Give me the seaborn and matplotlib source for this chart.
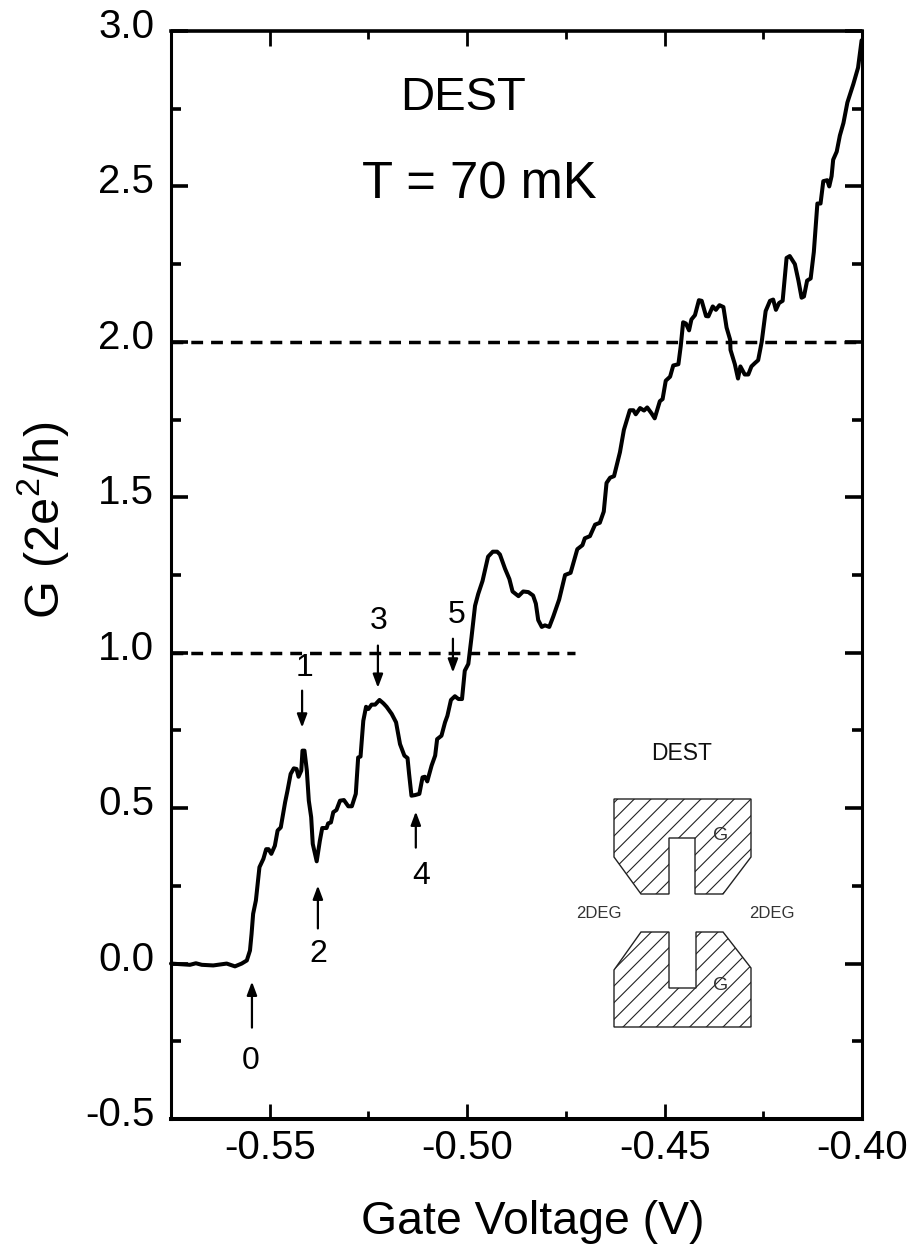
import matplotlib
matplotlib.use("Agg")
import matplotlib.pyplot as plt
from matplotlib.patches import Polygon
from matplotlib.ticker import MultipleLocator
from matplotlib.transforms import ScaledTranslation
import pandas as pd
import seaborn as sns

# --- Data ---

gate_voltage = [
    -0.5750, -0.5702, -0.5687, -0.5672, -0.5643, -0.5626, -0.5609, -0.5588, -0.5571, -0.5558,
    -0.5550, -0.5546, -0.5542, -0.5535, -0.5526, -0.5516, -0.5509, -0.5503, -0.5496, -0.5487,
    -0.5480, -0.5472, -0.5461, -0.5455, -0.5447, -0.5439, -0.5432, -0.5427, -0.5420, -0.5417,
    -0.5412, -0.5406, -0.5401, -0.5395, -0.5391, -0.5381, -0.5373, -0.5367, -0.5356, -0.5352,
    -0.5345, -0.5339, -0.5331, -0.5322, -0.5312, -0.5301, -0.5292, -0.5282, -0.5276, -0.5270,
    -0.5263, -0.5256, -0.5250, -0.5242, -0.5233, -0.5222, -0.5212, -0.5204, -0.5191, -0.5180,
    -0.5170, -0.5159, -0.5151, -0.5147, -0.5141, -0.5132, -0.5121, -0.5113, -0.5107, -0.5101,
    -0.5090, -0.5081, -0.5076, -0.5065, -0.5056, -0.5050, -0.5041, -0.5031, -0.5022, -0.5013,
    -0.5006, -0.4997, -0.4989, -0.4980, -0.4972, -0.4961, -0.4947, -0.4935, -0.4924, -0.4917,
    -0.4904, -0.4893, -0.4885, -0.4870, -0.4858, -0.4845, -0.4833, -0.4826, -0.4820, -0.4811,
    -0.4803, -0.4792, -0.4782, -0.4767, -0.4752, -0.4738, -0.4721, -0.4708, -0.4702, -0.4689,
    -0.4676, -0.4664, -0.4654, -0.4647, -0.4638, -0.4628, -0.4613, -0.4603, -0.4588, -0.4579,
    -0.4573, -0.4562, -0.4552, -0.4544, -0.4533, -0.4525, -0.4512, -0.4505, -0.4497, -0.4486,
    -0.4478, -0.4465, -0.4459, -0.4453, -0.4446, -0.4438, -0.4432, -0.4423, -0.4413, -0.4406,
    -0.4395, -0.4389, -0.4378, -0.4370, -0.4361, -0.4351, -0.4343, -0.4334, -0.4333, -0.4322,
    -0.4314, -0.4308, -0.4297, -0.4288, -0.4280, -0.4271, -0.4263, -0.4254, -0.4244, -0.4233,
    -0.4225, -0.4218, -0.4210, -0.4201, -0.4191, -0.4183, -0.4170, -0.4161, -0.4153, -0.4147,
    -0.4139, -0.4130, -0.4122, -0.4113, -0.4105, -0.4098, -0.4088, -0.4083, -0.4077, -0.4073,
    -0.4064, -0.4056, -0.4047, -0.4037, -0.4022, -0.4010, -0.4001,
]
conductance = [
    0.000, -0.004, 0.001, -0.004, -0.006, -0.003, 0.000, -0.009, 0.000, 0.010,
    0.042, 0.095, 0.160, 0.203, 0.310, 0.337, 0.368, 0.368, 0.353, 0.379,
    0.428, 0.438, 0.519, 0.556, 0.610, 0.628, 0.626, 0.601, 0.621, 0.685,
    0.685, 0.621, 0.524, 0.471, 0.385, 0.329, 0.395, 0.436, 0.436, 0.451,
    0.454, 0.487, 0.494, 0.524, 0.526, 0.506, 0.506, 0.546, 0.663, 0.666,
    0.781, 0.826, 0.819, 0.833, 0.833, 0.848, 0.837, 0.826, 0.803, 0.776,
    0.706, 0.669, 0.661, 0.610, 0.540, 0.542, 0.546, 0.599, 0.601, 0.586,
    0.637, 0.669, 0.722, 0.733, 0.776, 0.797, 0.848, 0.860, 0.851, 0.851,
    0.942, 0.964, 1.049, 1.151, 1.189, 1.231, 1.309, 1.325, 1.325, 1.316,
    1.270, 1.237, 1.197, 1.182, 1.197, 1.195, 1.184, 1.158, 1.105, 1.083,
    1.088, 1.083, 1.116, 1.171, 1.250, 1.257, 1.333, 1.346, 1.368, 1.375,
    1.412, 1.418, 1.454, 1.546, 1.563, 1.568, 1.645, 1.717, 1.780, 1.780,
    1.767, 1.787, 1.779, 1.789, 1.770, 1.754, 1.809, 1.816, 1.875, 1.888,
    1.924, 1.928, 1.987, 2.063, 2.059, 2.037, 2.072, 2.086, 2.134, 2.132,
    2.083, 2.082, 2.114, 2.103, 2.118, 2.112, 2.046, 2.007, 1.974, 1.928,
    1.882, 1.921, 1.895, 1.895, 1.921, 1.932, 1.941, 2.000, 2.099, 2.132,
    2.136, 2.103, 2.125, 2.132, 2.270, 2.276, 2.250, 2.197, 2.142, 2.146,
    2.197, 2.204, 2.289, 2.445, 2.445, 2.517, 2.520, 2.500, 2.533, 2.586,
    2.612, 2.664, 2.704, 2.770, 2.829, 2.882, 2.970,
]

# Numbered arrows: label, x, arrow tail, arrow tip, label x, label y
arrow_names = ["0", "1", "2", "3", "4", "5"]
arrow_x = [-0.5545, -0.5418, -0.5378, -0.5226, -0.5130, -0.5036]
arrow_tail = [-0.206, 0.878, 0.113, 1.023, 0.373, 1.045]
arrow_tip = [-0.058, 0.759, 0.251, 0.887, 0.489, 0.936]
arrow_label_x = [-0.5548, -0.5413, -0.5378, -0.5223, -0.5117, -0.5026]
arrow_label_y = [-0.312, 0.952, 0.032, 1.103, 0.283, 1.122]

df = pd.DataFrame({"V": gate_voltage, "G": conductance})

# --- Figure ---

sns.set_style("white")
plt.rcParams["font.family"] = ["Liberation Sans", "DejaVu Sans"]
plt.rcParams["text.color"] = "black"
plt.rcParams["axes.labelcolor"] = "black"
plt.rcParams["xtick.color"] = "black"
plt.rcParams["ytick.color"] = "black"
plt.rcParams["mathtext.fontset"] = "custom"
plt.rcParams["mathtext.rm"] = "Liberation Sans"
plt.rcParams["hatch.linewidth"] = 0.8

W, H = 916, 1251
fig = plt.figure(figsize=(W / 100, H / 100), dpi=100)
ax = fig.add_axes([171 / W, 1 - 1119 / H, (862 - 171) / W, (1119 - 31) / H])

# Dashed guide lines
ax.plot([-0.575, -0.4727], [1, 1], color="black", lw=2.5, dashes=(3.4, 2.3))
ax.plot([-0.575, -0.40], [2, 2], color="black", lw=2.5, dashes=(3.4, 2.3))

# Main trace
sns.lineplot(data=df, x="V", y="G", sort=False, estimator=None, color="black", lw=2.9, ax=ax,
             clip_on=False, solid_joinstyle="round")

ax.set_xlim(-0.575, -0.40)
ax.set_ylim(-0.5, 3.0)

# Ticks on all four sides, pointing in
ax.xaxis.set_major_locator(MultipleLocator(0.05))
ax.xaxis.set_minor_locator(MultipleLocator(0.025))
ax.yaxis.set_major_locator(MultipleLocator(0.5))
ax.yaxis.set_minor_locator(MultipleLocator(0.25))
ax.tick_params(axis="x", which="major", direction="in", top=True, bottom=True, length=11, width=2, labelsize=29, pad=7)
ax.tick_params(axis="x", which="minor", direction="in", top=True, bottom=True, length=6, width=2)
ax.tick_params(axis="y", which="major", direction="in", left=True, right=True, length=12, width=2.6, labelsize=29, pad=12)
ax.tick_params(axis="y", which="minor", direction="in", left=True, right=True, length=7, width=2.6)
ax.set_xticks([-0.55, -0.50, -0.45, -0.40])
ax.set_xticklabels(["-0.55", "-0.50", "-0.45", "-0.40"])
ax.set_yticks([-0.5, 0, 0.5, 1, 1.5, 2, 2.5, 3])
ax.set_yticklabels(["-0.5", "0.0", "0.5", "1.0", "1.5", "2.0", "2.5", "3.0"])

# y labels sit a little above their ticks in the original
shift = ScaledTranslation(0, 8 / 100, fig.dpi_scale_trans)
for lab in ax.get_yticklabels():
    lab.set_transform(lab.get_transform() + shift)

for side, width in {"left": 2.2, "right": 2.2, "top": 2.6, "bottom": 2.9}.items():
    ax.spines[side].set_visible(True)
    ax.spines[side].set_color("black")
    ax.spines[side].set_linewidth(width)

ax.set_xlabel("Gate Voltage (V)", fontsize=33.4)
ax.set_ylabel(r"G (2e$^{\mathregular{2}}$/h)", fontsize=35)
ax.xaxis.set_label_coords((533 - 171) / 691, -(1222 - 1119) / 1088, transform=ax.transAxes)
ax.xaxis.label.set_va("center")
ax.yaxis.set_label_coords((44 - 171) / 691, (1119 - 520) / 1088, transform=ax.transAxes)
ax.yaxis.label.set_va("center")

# Annotations
ax.text(-0.5011, 2.786, "DEST", fontsize=34, ha="center", va="center")
ax.text(-0.4968, 2.504, "T = 70 mK", fontsize=36.5, ha="center", va="center")

for name, x, tail, tip, lx, ly in zip(arrow_names, arrow_x, arrow_tail, arrow_tip, arrow_label_x, arrow_label_y):
    ax.annotate("", xy=(x, tip), xytext=(x, tail),
                arrowprops=dict(arrowstyle="-|>,head_length=0.8,head_width=0.3", color="black", lw=1.6,
                                shrinkA=0, shrinkB=0))
    ax.text(lx, ly, name, fontsize=23, ha="center", va="center")

# --- Device sketch, drawn in figure pixels ---

sketch = fig.add_axes([0, 0, 1, 1])
sketch.set_xlim(0, W)
sketch.set_ylim(H, 0)
sketch.axis("off")
sketch.patch.set_alpha(0)

top_gate = [(614, 799), (751, 799), (751, 857), (723, 894), (695, 894), (695, 838),
            (669, 838), (669, 894), (641, 894), (614, 857)]
bottom_gate = [(641, 932), (669, 932), (669, 988), (696, 988), (696, 932), (723, 932),
               (751, 968), (751, 1027), (614, 1027), (614, 970)]
for shape in [top_gate, bottom_gate]:
    sketch.add_patch(Polygon(shape, closed=True, fill=False, edgecolor="#222222", lw=1.0, hatch="//"))

sketch.text(682, 753, "DEST", fontsize=16.5, ha="center", va="center", color="#111111")
sketch.text(599, 914, "2DEG", fontsize=12, ha="center", va="center", color="#333333")
sketch.text(772, 914, "2DEG", fontsize=12, ha="center", va="center", color="#333333")
sketch.text(721, 835, "G", fontsize=14, ha="center", va="center", color="#333333")
sketch.text(721, 986, "G", fontsize=14, ha="center", va="center", color="#333333")

fig.savefig("out.png", dpi=100)
